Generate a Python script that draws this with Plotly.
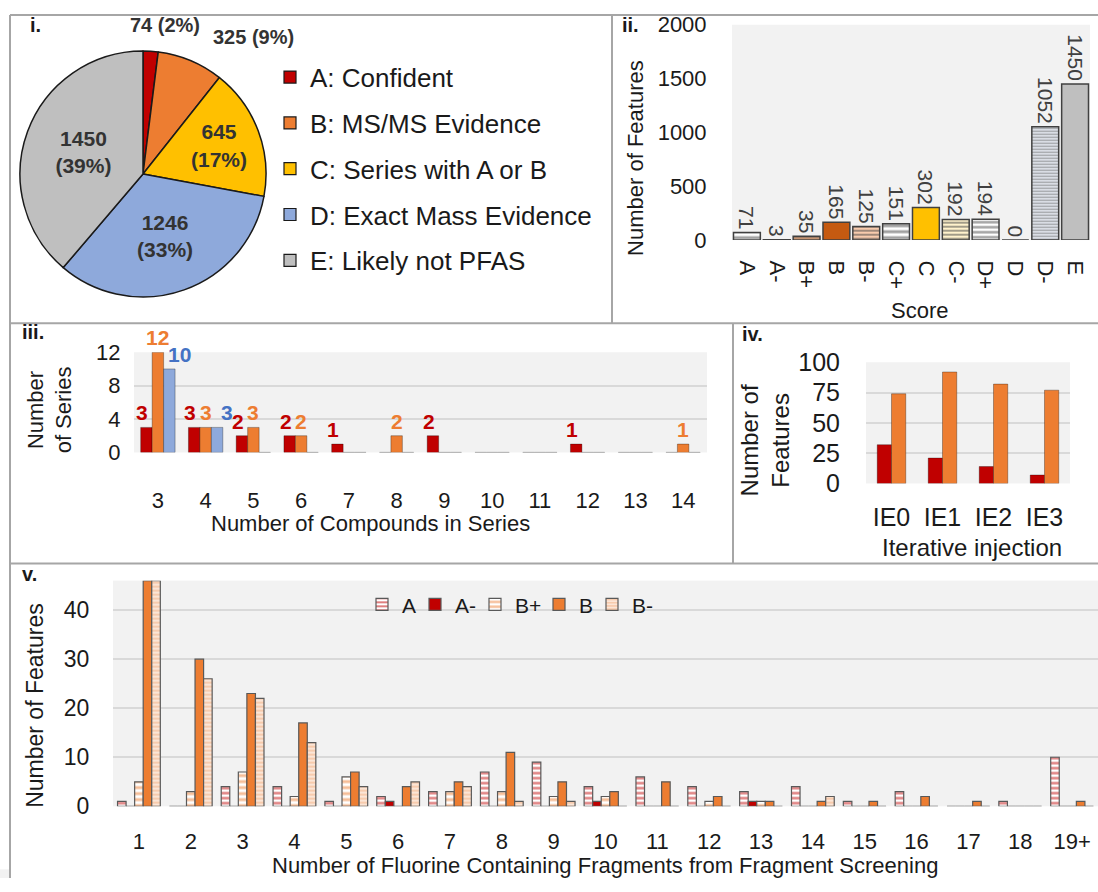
import plotly.graph_objects as go

W, H = 1098, 892
def X(px): return px / W
def Y(py): return 1 - py / H
def T(t):
    # vertical placement helper (maps a target row to a layout row)
    return (t - 14.3) / 0.967

FONT = "Liberation Sans, Arial, sans-serif"
NARROW = "Liberation Sans Narrow, Arial Narrow, Liberation Sans, Arial, sans-serif"
TXT = "#1a1a1a"

# ---------------- data ----------------
# panel i
pie_labels = ["A: Confident", "B: MS/MS Evidence", "C: Series with A or B",
              "D: Exact Mass Evidence", "E: Likely not PFAS"]
pie_values = [74, 325, 645, 1246, 1450]
pie_colors = ["#C00000", "#ED7D31", "#FFC000", "#8EA9DB", "#BFBFBF"]

# panel ii
score_cats = ["A", "A-", "B+", "B", "B-", "C+", "C", "C-", "D+", "D", "D-", "E"]
score_vals = [71, 3, 35, 165, 125, 151, 302, 192, 194, 0, 1052, 1450]

# panel iii
series_cats = ["3", "4", "5", "6", "7", "8", "9", "10", "11", "12", "13", "14"]
series_red = [3, 3, 2, 2, 1, 0, 2, 0, 0, 1, 0, 0]
series_orange = [12, 3, 3, 2, 0, 2, 0, 0, 0, 0, 0, 1]
series_blue = [10, 3, 0, 0, 0, 0, 0, 0, 0, 0, 0, 0]

# panel iv
ie_cats = ["IE0", "IE1", "IE2", "IE3"]
ie_red = [32, 21, 14, 7]
ie_orange = [74, 92, 82, 77]

# panel v
frag_cats = [str(i) for i in range(1, 19)] + ["19+"]
frag_A = [1, 0, 4, 4, 1, 2, 3, 7, 9, 4, 6, 4, 3, 4, 1, 3, 0, 1, 10]
frag_Am = [0, 0, 0, 0, 0, 1, 0, 0, 0, 1, 0, 0, 1, 0, 0, 0, 0, 0, 0]
frag_Bp = [5, 3, 7, 2, 6, 0, 3, 3, 2, 2, 0, 1, 1, 0, 0, 0, 0, 0, 0]
frag_B = [46, 30, 23, 17, 7, 4, 5, 11, 5, 3, 5, 2, 1, 1, 1, 2, 1, 0, 1]
frag_Bm = [46, 26, 22, 13, 4, 5, 4, 1, 1, 0, 0, 0, 0, 2, 0, 0, 0, 0, 0]

fig = go.Figure()
annotations = []

# ---------------- panel i : pie ----------------
total = sum(pie_values)
cx, cy, r = 143, T(174), 127
tmpl = ["", ""] + ["<b>%{value}<br>(%{percent:.0%})</b>"] * 3
fig.add_trace(go.Pie(
    labels=pie_labels, values=pie_values, sort=False, direction="clockwise",
    rotation=0, marker=dict(colors=pie_colors, line=dict(color="#1a1a1a", width=1.5)),
    texttemplate=tmpl, textposition="inside", insidetextorientation="horizontal",
    textfont=dict(family=FONT, size=21, color="#333333"),
    domain=dict(x=[X(cx - r), X(cx + r)], y=[Y(cy + r), Y(cy - r)]),
    showlegend=False, hoverinfo="skip"))

# legend proxies for the pie (on a hidden axis pair)
for i, (lab, col) in enumerate(zip(pie_labels, pie_colors)):
    fig.add_trace(go.Bar(x=[None], y=[None], name=lab,
                         marker=dict(color=col, line=dict(color="#1a1a1a", width=1.2)),
                         legend="legend", legendgroup=f"g{i}", xaxis="x5", yaxis="y5",
                         showlegend=True, hoverinfo="skip"))

# ---------------- panel ii ----------------
ii_fg = ["#E03C3C", "#C00000", "#C55A11", "#C55A11", "#D39A70", "#FFC000", "#FFC000",
         "#FFD966", "#8EA9DB", "#4472C4", "#9DB4E0", "#BFBFBF"]
ii_bg = ["#FFFFFF", "#C00000", "#F4B183", "#C55A11", "#F8CBAD", "#FFFFFF", "#FFC000",
         "#FFF2CC", "#FFFFFF", "#4472C4", "#EEF2FA", "#BFBFBF"]
ii_shape = ["-", "", "-", "", "-", "-", "", "-", "-", "", "-", ""]
ii_size = [6, 6, 5, 6, 4, 6, 6, 4, 5, 6, 3, 6]
fig.add_trace(go.Bar(
    x=score_cats, y=score_vals, xaxis="x", yaxis="y", width=0.9, offset=-0.45,
    marker=dict(color=ii_bg, line=dict(color="#404040", width=1.5),
                pattern=dict(shape=ii_shape, fgcolor=ii_fg, bgcolor=ii_bg, size=ii_size, solidity=0.5)),
    text=[str(v) for v in score_vals], textposition="outside", textangle=90,
    textfont=dict(family=FONT, size=21, color="#404040"), cliponaxis=False,
    constraintext="none", showlegend=False, hoverinfo="skip"))

# ---------------- panel iii ----------------
w3 = 0.24
cat_px3 = (707 - 134) / len(series_cats)
label_nudge = [-4, 0, 10]
for k, (vals, col, tcol) in enumerate([(series_red, "#C00000", "#C00000"),
                                       (series_orange, "#ED7D31", "#ED7D31"),
                                       (series_blue, "#8EA9DB", "#4472C4")]):
    fig.add_trace(go.Bar(
        x=series_cats, y=vals, xaxis="x2", yaxis="y2", width=w3, offset=-1.5 * w3 + k * w3,
        marker=dict(color=col, line=dict(color="rgba(0,0,0,0.3)", width=1)),
        showlegend=False, hoverinfo="skip"))
    for ci, v in enumerate(vals):
        if v:
            annotations.append(dict(
                x=ci, y=v, xref="x2", yref="y2", text=f"<b>{v}</b>", showarrow=False,
                xanchor="center", yanchor="bottom", yshift=1,
                xshift=(k - 1) * w3 * cat_px3 + label_nudge[k],
                font=dict(family=NARROW, size=21, color=tcol)))

# ---------------- panel iv ----------------
for k, (vals, col) in enumerate([(ie_red, "#C00000"), (ie_orange, "#ED7D31")]):
    fig.add_trace(go.Bar(
        x=ie_cats, y=vals, xaxis="x3", yaxis="y3", width=0.28, offset=-0.28 + k * 0.28,
        marker=dict(color=col, line=dict(color="rgba(0,0,0,0.3)", width=1)),
        showlegend=False, hoverinfo="skip"))

# ---------------- panel v ----------------
v_specs = [
    ("A", frag_A, dict(color="#FFFFFF", pattern=dict(shape="-", fgcolor="#C00000", bgcolor="#FFFFFF", size=5, solidity=0.5))),
    ("A-", frag_Am, dict(color="#C00000")),
    ("B+", frag_Bp, dict(color="#FFFFFF", pattern=dict(shape="-", fgcolor="#ED7D31", bgcolor="#FFFFFF", size=6, solidity=0.5))),
    ("B", frag_B, dict(color="#ED7D31")),
    ("B-", frag_Bm, dict(color="#FBE5D6", pattern=dict(shape="-", fgcolor="#F4B183", bgcolor="#FBE5D6", size=4, solidity=0.5))),
]
w5 = 0.165
v_legend_x = [362, 415, 475, 539, 592]
for k, (name, vals, mk) in enumerate(v_specs):
    mk = dict(mk)
    mk["line"] = dict(color="#595959", width=1.2)
    fig.add_trace(go.Bar(x=frag_cats, y=vals, name=name, xaxis="x4", yaxis="y4",
                         width=w5, offset=-2.5 * w5 + k * w5,
                         marker=mk, legend=f"legend{k + 2}", hoverinfo="skip"))

# ---------------- layout ----------------
def yax(domain, anchor, rng, dtick, grid=True, standoff=8, size=22):
    return dict(domain=domain, anchor=anchor, range=rng, dtick=dtick, showgrid=grid,
                gridcolor="#D9D9D9", gridwidth=1.5, zeroline=False, showline=False,
                ticks="outside", ticklen=standoff, tickcolor="rgba(0,0,0,0)",
                tickfont=dict(family=FONT, size=size, color=TXT), fixedrange=True)

def xax(domain, anchor, cats, standoff, size=22, angle=0):
    return dict(domain=domain, anchor=anchor, type="category", categoryorder="array",
                categoryarray=cats, range=[-0.5, len(cats) - 0.5], showgrid=False,
                zeroline=False, showline=False,
                ticks="outside", ticklen=standoff, tickcolor="rgba(0,0,0,0)", tickangle=angle,
                tickfont=dict(family=FONT, size=size, color=TXT), fixedrange=True)

d1, d2 = T(323), T(563)
lines = [
    (10, 1, 1098, 1), (10, 1, 10, 892), (612, 1, 612, d1), (10, d1, 1098, d1),
    (733, d1, 733, d2), (10, d2, 1098, d2),
]
shapes = [dict(type="line", xref="paper", yref="paper", x0=X(a), y0=Y(b), x1=X(c), y1=Y(d),
               line=dict(color="#A6A6A6", width=2)) for a, b, c, d in lines]

def ann(x, y, text, size=22, bold=False, angle=0, color=TXT, xanchor="center", family=FONT):
    t = f"<b>{text}</b>" if bold else text
    return dict(x=X(x), y=Y(y), xref="paper", yref="paper", text=t, showarrow=False,
                textangle=angle, xanchor=xanchor, yanchor="middle",
                font=dict(family=family, size=size, color=color))

annotations += [
    ann(28, 11, "i.", 20, True, xanchor="left"),
    ann(620, 11, "ii.", 20, True, xanchor="left"),
    ann(20, T(332), "iii.", 20, True, xanchor="left"),
    ann(740, T(334), "iv.", 20, True, xanchor="left"),
    ann(20, T(573), "v.", 20, True, xanchor="left"),
    # pie outside labels
    ann(165, 11, f"{pie_values[0]} ({round(100 * pie_values[0] / total)}%)", 20, True, color="#333333"),
    ann(253, T(37), f"{pie_values[1]} ({round(100 * pie_values[1] / total)}%)", 20, True, color="#333333"),
    # axis titles
    ann(636, T(158), "Number of Features", 22, angle=-90),
    ann(919, T(310), "Score", 22),
    ann(50, T(410), "Number<br>of Series", 22, angle=-90),
    ann(370, T(523), "Number of Compounds in Series", 22),
    ann(765, T(440), "Number of<br>Features", 24, angle=-90),
    ann(972, 551, "Iterative injection", 24),
    ann(35, T(705), "Number of Features", 23, angle=-90),
    ann(605, 879, "Number of Fluorine Containing Fragments from Fragment Screening", 22),
]

legends = dict(
    legend=dict(x=X(270), y=Y(41), xanchor="left", yanchor="top", bgcolor="rgba(0,0,0,0)",
                font=dict(family=FONT, size=26, color=TXT), tracegroupgap=9, itemclick=False),
)
for k, lx in enumerate(v_legend_x):
    legends[f"legend{k + 2}"] = dict(x=X(lx), y=Y(T(604)), xanchor="left", yanchor="middle",
                                     orientation="h", bgcolor="rgba(0,0,0,0)",
                                     font=dict(family=FONT, size=21, color=TXT), itemclick=False)

fig.update_layout(
    width=W, height=H, margin=dict(l=0, r=0, t=0, b=0),
    paper_bgcolor="white", plot_bgcolor="#F2F2F2",
    font=dict(family=FONT, color=TXT),
    barmode="overlay",
    xaxis=xax([X(732), X(1090)], "y", score_cats, 15, 22, 90),
    yaxis=yax([Y(T(240)), Y(T(25))], "x", [0, 2000], 500, grid=False, standoff=20, size=22),
    xaxis2=xax([X(134), X(707)], "y2", series_cats, 28, 22),
    yaxis2=yax([Y(T(452)), Y(T(352))], "x2", [0, 12], 4, standoff=8, size=22),
    xaxis3=xax([X(866), X(1070)], "y3", ie_cats, 12, 25),
    yaxis3=yax([Y(T(483)), Y(T(362))], "x3", [0, 100], 25, standoff=20, size=25),
    xaxis4=xax([X(113), X(1098)], "y4", frag_cats, 15, 22),
    yaxis4=yax([Y(818), Y(T(580))], "x4", [0, 46], 10, standoff=18, size=23),
    xaxis5=dict(domain=[0, 0.01], anchor="y5", visible=False),
    yaxis5=dict(domain=[0, 0.01], anchor="x5", visible=False),
    shapes=shapes, annotations=annotations,
    **legends,
)
post = ("document.documentElement.style.overflow='hidden';"
        "document.body.style.margin='0';document.body.style.overflow='hidden';"
        "var d=document.querySelector('.plotly-graph-div');"
        "d.style.position='fixed';d.style.top='0px';d.style.left='0px';")
fig.write_html("out.html", post_script=post, config={"displayModeBar": False})
